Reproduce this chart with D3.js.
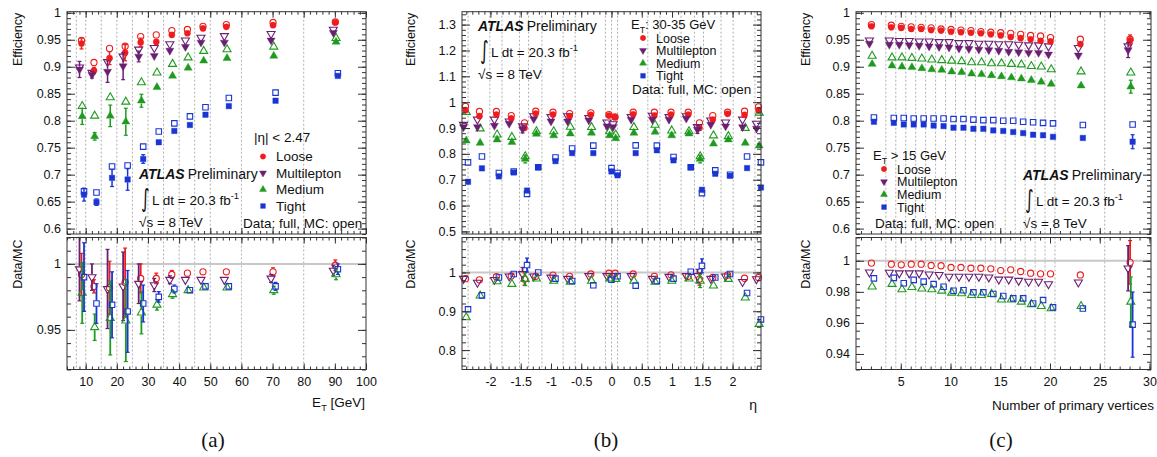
<!DOCTYPE html>
<html><head><meta charset="utf-8">
<script src="https://cdn.jsdelivr.net/npm/d3@7"></script>
<style>body{margin:0;background:#fff}svg text{font-family:"Liberation Sans",Arial,Helvetica,sans-serif;fill:#111}</style>
</head><body><svg id="c" width="1157" height="457"></svg>
<script>
// ---------------- shared ----------------
const seriesNames = ["Loose", "Multilepton", "Medium", "Tight"];
const seriesColors = ["#ee1c1c", "#6a1f72", "#1e9b1e", "#1a35d4"];
const seriesShapes = ["circle", "down", "up", "square"];

// ---------------- panel (a): efficiency vs ET ----------------
const aCenters = [8.5, 12.5, 17.5, 22.5, 27.5, 32.5, 37.5, 42.5, 47.5, 55, 70, 90];
const aEdges = [7, 10, 15, 20, 25, 30, 35, 40, 45, 50, 60, 80];
const aXTicks = [10, 20, 30, 40, 50, 60, 70, 80, 90, 100];
const aTopTicks = [0.6, 0.65, 0.7, 0.75, 0.8, 0.85, 0.9, 0.95, 1];
const aRatioTicks = [0.95, 1];

const aLooseData = [0.943, 0.893, 0.916, 0.926, 0.945, 0.946, 0.959, 0.962, 0.971, 0.974, 0.977, 0.982];
const aLooseMC   = [0.949, 0.908, 0.934, 0.938, 0.956, 0.959, 0.967, 0.969, 0.975, 0.978, 0.982, 0.983];
const aLooseErr  = [0.010, 0.006, 0.012, 0.015, 0.008, 0.003, 0.002, 0.002, 0.002, 0.002, 0.002, 0.002];
const aMultiData = [0.895, 0.885, 0.891, 0.901, 0.919, 0.920, 0.930, 0.937, 0.945, 0.945, 0.949, 0.963];
const aMultiMC   = [0.899, 0.889, 0.909, 0.919, 0.932, 0.935, 0.942, 0.949, 0.954, 0.957, 0.961, 0.969];
const aMultiErr  = [0.015, 0.006, 0.020, 0.025, 0.010, 0.004, 0.003, 0.002, 0.002, 0.002, 0.002, 0.003];
const aMediumData = [0.808, 0.771, 0.809, 0.798, 0.837, 0.862, 0.883, 0.898, 0.911, 0.916, 0.920, 0.946];
const aMediumMC   = [0.827, 0.809, 0.843, 0.835, 0.871, 0.889, 0.905, 0.917, 0.929, 0.932, 0.937, 0.953];
const aMediumErr  = [0.015, 0.007, 0.020, 0.025, 0.012, 0.004, 0.003, 0.002, 0.002, 0.002, 0.003, 0.003];
const aTightData = [0.663, 0.649, 0.694, 0.691, 0.729, 0.760, 0.781, 0.792, 0.811, 0.827, 0.837, 0.883];
const aTightMC   = [0.669, 0.667, 0.715, 0.717, 0.752, 0.780, 0.795, 0.808, 0.825, 0.842, 0.852, 0.888];
const aTightErr  = [0.012, 0.006, 0.016, 0.020, 0.008, 0.003, 0.002, 0.002, 0.002, 0.002, 0.002, 0.003];

const aLooseRatio = [0.992, 0.983, 0.982, 0.986, 0.989, 0.989, 0.992, 0.993, 0.994, 0.994, 0.994, 0.999];
const aLooseRatioErr = [0.016, 0.005, 0.020, 0.026, 0.011, 0.004, 0.003, 0.002, 0.002, 0.002, 0.003, 0.004];
const aMultiRatio = [0.996, 0.990, 0.981, 0.983, 0.985, 0.984, 0.988, 0.988, 0.988, 0.988, 0.989, 0.995];
const aMultiRatioErr = [0.024, 0.010, 0.030, 0.026, 0.015, 0.005, 0.003, 0.002, 0.002, 0.002, 0.003, 0.004];
const aMediumRatio = [0.978, 0.952, 0.959, 0.957, 0.963, 0.969, 0.977, 0.980, 0.982, 0.982, 0.980, 0.992];
const aMediumRatioErr = [0.023, 0.010, 0.028, 0.031, 0.016, 0.004, 0.003, 0.002, 0.002, 0.002, 0.003, 0.004];
const aTightRatio = [0.990, 0.970, 0.969, 0.964, 0.970, 0.975, 0.981, 0.980, 0.983, 0.983, 0.983, 0.996];
const aTightRatioErr = [0.026, 0.015, 0.025, 0.031, 0.014, 0.004, 0.003, 0.002, 0.002, 0.002, 0.003, 0.004];

// ---------------- panel (b): efficiency vs eta ----------------
const bCenters = [-2.42, -2.19, -1.91, -1.665, -1.445, -1.26, -0.975, -0.7, -0.35, -0.05, 0.05, 0.35, 0.7, 0.975, 1.26, 1.445, 1.665, 1.91, 2.19, 2.42];
const bEdges = [-2.37, -2.01, -1.81, -1.52, -1.37, -1.15, -0.8, -0.6, -0.1, 0, 0.1, 0.6, 0.8, 1.15, 1.37, 1.52, 1.81, 2.01, 2.37];
const bXTicks = [-2, -1.5, -1, -0.5, 0, 0.5, 1, 1.5, 2];
const bTopTicks = [0.5, 0.6, 0.7, 0.8, 0.9, 1, 1.1, 1.2, 1.3];
const bRatioTicks = [0.8, 0.9, 1];

const bLooseData = [0.969, 0.946, 0.952, 0.937, 0.900, 0.956, 0.952, 0.946, 0.951, 0.948, 0.942, 0.953, 0.948, 0.952, 0.952, 0.900, 0.933, 0.955, 0.951, 0.969];
const bLooseMC   = [0.984, 0.964, 0.964, 0.948, 0.920, 0.965, 0.961, 0.956, 0.959, 0.952, 0.943, 0.961, 0.961, 0.961, 0.961, 0.920, 0.948, 0.961, 0.965, 0.982];
const bLooseErr  = [0.004, 0.003, 0.003, 0.003, 0.008, 0.003, 0.002, 0.002, 0.002, 0.003, 0.003, 0.002, 0.002, 0.002, 0.003, 0.008, 0.003, 0.003, 0.003, 0.004];
const bMultiData = [0.904, 0.904, 0.909, 0.917, 0.896, 0.935, 0.926, 0.926, 0.930, 0.907, 0.904, 0.933, 0.933, 0.933, 0.937, 0.894, 0.913, 0.907, 0.904, 0.898];
const bMultiMC   = [0.913, 0.933, 0.933, 0.926, 0.907, 0.946, 0.943, 0.946, 0.939, 0.922, 0.915, 0.943, 0.948, 0.943, 0.946, 0.904, 0.930, 0.922, 0.933, 0.917];
const bMultiErr  = [0.005, 0.004, 0.004, 0.004, 0.015, 0.004, 0.003, 0.003, 0.003, 0.004, 0.004, 0.003, 0.003, 0.003, 0.004, 0.015, 0.004, 0.004, 0.004, 0.005];
const bMediumData = [0.851, 0.842, 0.855, 0.845, 0.780, 0.877, 0.871, 0.878, 0.881, 0.871, 0.860, 0.881, 0.885, 0.871, 0.878, 0.780, 0.839, 0.855, 0.842, 0.832];
const bMediumMC   = [0.961, 0.898, 0.874, 0.865, 0.790, 0.887, 0.887, 0.904, 0.903, 0.887, 0.874, 0.903, 0.912, 0.890, 0.887, 0.790, 0.871, 0.868, 0.900, 0.959];
const bMediumErr  = [0.005, 0.004, 0.004, 0.004, 0.015, 0.004, 0.003, 0.003, 0.003, 0.004, 0.004, 0.003, 0.003, 0.003, 0.004, 0.015, 0.004, 0.004, 0.004, 0.005];
const bTightData = [0.692, 0.744, 0.713, 0.728, 0.658, 0.748, 0.772, 0.803, 0.803, 0.732, 0.717, 0.803, 0.814, 0.775, 0.748, 0.661, 0.723, 0.715, 0.745, 0.670];
const bTightMC   = [0.767, 0.790, 0.726, 0.732, 0.645, 0.748, 0.786, 0.821, 0.832, 0.745, 0.726, 0.833, 0.832, 0.788, 0.748, 0.648, 0.736, 0.719, 0.790, 0.767];
const bTightErr  = [0.005, 0.004, 0.004, 0.004, 0.010, 0.004, 0.003, 0.003, 0.003, 0.004, 0.004, 0.003, 0.003, 0.003, 0.004, 0.010, 0.004, 0.004, 0.004, 0.005];

const bLooseRatio  = [0.984, 0.981, 0.989, 0.991, 0.983, 0.990, 0.993, 0.990, 0.996, 0.998, 0.998, 0.996, 0.990, 0.994, 0.990, 0.983, 0.987, 0.993, 0.985, 0.987];
const bMultiRatio  = [0.984, 0.974, 0.981, 0.990, 0.996, 0.990, 0.987, 0.984, 0.991, 0.991, 0.991, 0.991, 0.984, 0.989, 0.991, 0.991, 0.984, 0.990, 0.976, 0.983];
const bMediumRatio = [0.884, 0.940, 0.977, 0.970, 0.983, 0.984, 0.978, 0.976, 0.978, 0.984, 0.983, 0.978, 0.976, 0.978, 0.984, 0.978, 0.966, 0.983, 0.935, 0.867];
const bTightRatio  = [0.905, 0.941, 0.987, 0.996, 1.019, 1.000, 0.984, 0.978, 0.967, 0.981, 0.990, 0.966, 0.978, 0.984, 1.002, 1.017, 0.987, 0.996, 0.947, 0.879];
const bLooseRatioErr  = [0.004, 0.004, 0.004, 0.004, 0.016, 0.004, 0.003, 0.003, 0.003, 0.004, 0.004, 0.003, 0.003, 0.003, 0.004, 0.016, 0.004, 0.004, 0.004, 0.004];
const bMultiRatioErr  = [0.005, 0.005, 0.005, 0.005, 0.017, 0.005, 0.004, 0.004, 0.004, 0.005, 0.005, 0.004, 0.004, 0.004, 0.005, 0.017, 0.005, 0.005, 0.005, 0.005];
const bMediumRatioErr = [0.005, 0.005, 0.005, 0.005, 0.017, 0.005, 0.004, 0.004, 0.004, 0.005, 0.005, 0.004, 0.004, 0.004, 0.005, 0.017, 0.005, 0.005, 0.005, 0.005];
const bTightRatioErr  = [0.007, 0.005, 0.005, 0.005, 0.018, 0.005, 0.004, 0.004, 0.004, 0.005, 0.005, 0.004, 0.004, 0.004, 0.005, 0.018, 0.005, 0.005, 0.006, 0.007];

// ---------------- panel (c): efficiency vs number of primary vertices ----------------
const cCenters = [2, 4, 5, 6, 7, 8, 9, 10, 11, 12, 13, 14, 15, 16, 17, 18, 19, 20, 23, 28];
const cEdges = [3.5, 4.5, 5.5, 6.5, 7.5, 8.5, 9.5, 10.5, 11.5, 12.5, 13.5, 14.5, 15.5, 16.5, 17.5, 18.5, 19.5, 20.5, 25.5];
const cXTicks = [5, 10, 15, 20, 25, 30];
const cTopTicks = [0.6, 0.65, 0.7, 0.75, 0.8, 0.85, 0.9, 0.95, 1];
const cRatioTicks = [0.94, 0.96, 0.98, 1];

const cLooseData = [0.975, 0.973, 0.972, 0.970, 0.970, 0.968, 0.967, 0.965, 0.964, 0.963, 0.962, 0.960, 0.958, 0.955, 0.953, 0.951, 0.948, 0.947, 0.942, 0.949];
const cLooseMC   = [0.978, 0.977, 0.975, 0.974, 0.973, 0.972, 0.970, 0.969, 0.968, 0.967, 0.965, 0.964, 0.963, 0.962, 0.960, 0.958, 0.957, 0.954, 0.951, 0.951];
const cLooseErr  = [0.002, 0.001, 0.001, 0.001, 0.001, 0.001, 0.001, 0.001, 0.001, 0.001, 0.001, 0.001, 0.001, 0.001, 0.001, 0.001, 0.002, 0.002, 0.002, 0.010];
const cMultiData = [0.943, 0.941, 0.941, 0.940, 0.939, 0.938, 0.937, 0.936, 0.934, 0.933, 0.932, 0.931, 0.930, 0.928, 0.927, 0.926, 0.926, 0.923, 0.921, 0.931];
const cMultiMC   = [0.949, 0.949, 0.948, 0.948, 0.947, 0.947, 0.946, 0.946, 0.944, 0.944, 0.943, 0.943, 0.942, 0.942, 0.941, 0.940, 0.940, 0.938, 0.935, 0.938];
const cMultiErr  = [0.002, 0.001, 0.001, 0.001, 0.001, 0.001, 0.001, 0.001, 0.001, 0.001, 0.001, 0.001, 0.001, 0.001, 0.001, 0.001, 0.002, 0.002, 0.002, 0.014];
const cMediumData = [0.905, 0.902, 0.900, 0.899, 0.897, 0.895, 0.894, 0.891, 0.890, 0.887, 0.886, 0.884, 0.882, 0.880, 0.878, 0.875, 0.872, 0.868, 0.865, 0.863];
const cMediumMC   = [0.920, 0.917, 0.917, 0.916, 0.915, 0.913, 0.912, 0.911, 0.910, 0.908, 0.908, 0.906, 0.906, 0.905, 0.904, 0.901, 0.900, 0.895, 0.891, 0.889];
const cMediumErr  = [0.002, 0.001, 0.001, 0.001, 0.001, 0.001, 0.001, 0.001, 0.001, 0.001, 0.001, 0.001, 0.001, 0.001, 0.001, 0.001, 0.002, 0.002, 0.002, 0.012];
const cTightData = [0.798, 0.796, 0.793, 0.793, 0.793, 0.791, 0.790, 0.787, 0.787, 0.785, 0.785, 0.782, 0.781, 0.779, 0.777, 0.774, 0.773, 0.770, 0.768, 0.761];
const cTightMC   = [0.806, 0.805, 0.805, 0.804, 0.804, 0.804, 0.804, 0.803, 0.803, 0.802, 0.801, 0.801, 0.800, 0.800, 0.798, 0.797, 0.796, 0.795, 0.792, 0.793];
const cTightErr  = [0.002, 0.001, 0.001, 0.001, 0.001, 0.001, 0.001, 0.001, 0.001, 0.001, 0.001, 0.001, 0.001, 0.001, 0.001, 0.001, 0.002, 0.002, 0.002, 0.013];

const cLooseRatio  = [0.9985, 0.9978, 0.9974, 0.9978, 0.9978, 0.9970, 0.9968, 0.9957, 0.9957, 0.9952, 0.9952, 0.9948, 0.9937, 0.9942, 0.9931, 0.9920, 0.9916, 0.9916, 0.9909, 0.9990];
const cMultiRatio  = [0.9926, 0.9924, 0.9920, 0.9920, 0.9920, 0.9913, 0.9910, 0.9898, 0.9898, 0.9898, 0.9898, 0.9894, 0.9880, 0.9880, 0.9872, 0.9866, 0.9866, 0.9850, 0.9861, 0.9952];
const cMediumRatio = [0.9833, 0.9850, 0.9816, 0.9830, 0.9820, 0.9816, 0.9807, 0.9794, 0.9790, 0.9779, 0.9779, 0.9786, 0.9750, 0.9750, 0.9736, 0.9720, 0.9708, 0.9693, 0.9708, 0.9736];
const cTightRatio  = [0.9887, 0.9890, 0.9855, 0.9877, 0.9866, 0.9850, 0.9833, 0.9807, 0.9810, 0.9797, 0.9797, 0.9786, 0.9773, 0.9758, 0.9758, 0.9725, 0.9747, 0.9700, 0.9693, 0.9589];
const cLooseRatioErr  = [0.0009, 0.0008, 0.0007, 0.0007, 0.0007, 0.0007, 0.0007, 0.0007, 0.0007, 0.0007, 0.0007, 0.0007, 0.0008, 0.0008, 0.0009, 0.0010, 0.0011, 0.0012, 0.0012, 0.0140];
const cMultiRatioErr  = [0.0010, 0.0009, 0.0008, 0.0008, 0.0008, 0.0008, 0.0008, 0.0008, 0.0008, 0.0008, 0.0008, 0.0008, 0.0009, 0.0009, 0.0010, 0.0011, 0.0012, 0.0013, 0.0013, 0.0146];
const cMediumRatioErr = [0.0012, 0.0010, 0.0009, 0.0009, 0.0009, 0.0009, 0.0009, 0.0009, 0.0009, 0.0009, 0.0009, 0.0009, 0.0010, 0.0010, 0.0011, 0.0012, 0.0013, 0.0014, 0.0014, 0.0160];
const cTightRatioErr  = [0.0013, 0.0011, 0.0010, 0.0010, 0.0010, 0.0010, 0.0010, 0.0010, 0.0010, 0.0010, 0.0010, 0.0010, 0.0011, 0.0011, 0.0012, 0.0013, 0.0014, 0.0015, 0.0016, 0.0210];

// ---------------- drawing ----------------
const svg = d3.select("#c");
const TOP = [11.7, 234];     // top frame y range (px)
const RAT = [237.5, 369.5];  // ratio frame y range (px)
const SHIFT = [0.5, -1.5, 1.2, 3]; // small px offsets per series

function rng(a, b, step) {
  const n = Math.round((b - a) / step);
  return d3.range(n + 1).map(i => +(a + i * step).toFixed(5));
}
const fmtNum = v => String(+v.toFixed(3));

function symbolPath(shape, size) {
  const t = shape === "circle" ? d3.symbolCircle : shape === "square" ? d3.symbolSquare : d3.symbolTriangle;
  return d3.symbol().type(t).size(size)();
}
const symSize = { circle: 30, square: 30, up: 28, down: 28 };

function drawMarker(g, shape, cx, cy, color, filled, scale) {
  const s = (scale || 1) * symSize[shape];
  g.append("path")
    .attr("d", symbolPath(shape, s))
    .attr("transform", `translate(${cx},${cy})` + (shape === "down" ? " rotate(180)" : ""))
    .attr("fill", filled ? color : "none")
    .attr("stroke", color)
    .attr("stroke-width", filled ? 0.4 : 1.1);
}

function errBar(g, cx, cy, yLo, yHi, color, r, w) {
  const segs = [];
  if (yLo - cy > r) segs.push([cy + r, yLo]);
  if (cy - yHi > r) segs.push([yHi, cy - r]);
  segs.forEach(([a, b]) => g.append("line").attr("x1", cx).attr("x2", cx).attr("y1", a).attr("y2", b)
    .attr("stroke", color).attr("stroke-width", w));
  [yLo, yHi].forEach(y => {
    if (Math.abs(y - cy) > r) g.append("line").attr("x1", cx - 2).attr("x2", cx + 2).attr("y1", y).attr("y2", y)
      .attr("stroke", color).attr("stroke-width", 1.2);
  });
}

function frameAxes(g, x, y, yr, P, yTicks, yMinor, showXLabels) {
  const [t, b] = yr;
  const style = sel => {
    sel.select(".domain").remove();
    sel.attr("font-size", null).attr("font-family", null);
    sel.selectAll("line").attr("stroke", "#333");
    sel.selectAll("text").attr("font-size", 12.5).attr("fill", "#111");
  };
  g.append("g").attr("transform", `translate(${P.left},0)`)
    .call(d3.axisLeft(y).tickValues(yTicks).tickSize(-8).tickPadding(6).tickFormat(fmtNum)).call(style);
  g.append("g").attr("transform", `translate(${P.left},0)`)
    .call(d3.axisLeft(y).tickValues(yMinor).tickSize(-4).tickFormat("")).call(style);
  g.append("g").attr("transform", `translate(${P.right},0)`)
    .call(d3.axisRight(y).tickValues(yTicks).tickSize(-8).tickFormat("")).call(style);
  g.append("g").attr("transform", `translate(${P.right},0)`)
    .call(d3.axisRight(y).tickValues(yMinor).tickSize(-4).tickFormat("")).call(style);
  g.append("g").attr("transform", `translate(0,${b})`)
    .call(d3.axisBottom(x).tickValues(P.xTicks).tickSize(-6).tickPadding(8).tickFormat(showXLabels ? fmtNum : "")).call(style);
  g.append("g").attr("transform", `translate(0,${b})`)
    .call(d3.axisBottom(x).tickValues(P.xMinor).tickSize(-3).tickFormat("")).call(style);
  g.append("g").attr("transform", `translate(0,${t})`)
    .call(d3.axisTop(x).tickValues(P.xTicks).tickSize(-6).tickFormat("")).call(style);
  g.append("g").attr("transform", `translate(0,${t})`)
    .call(d3.axisTop(x).tickValues(P.xMinor).tickSize(-3).tickFormat("")).call(style);
  g.append("rect").attr("x", P.left).attr("y", t).attr("width", P.right - P.left).attr("height", b - t)
    .attr("fill", "none").attr("stroke", "#333").attr("stroke-width", 1);
}

function drawPanel(P) {
  const g = svg.append("g");
  const x = d3.scaleLinear().domain(P.xDomain).range([P.left, P.right]);
  const yT = d3.scaleLinear().domain(P.topDomain).range([TOP[1], TOP[0]]);
  const yR = d3.scaleLinear().domain(P.ratioDomain).range([RAT[1], RAT[0]]);

  [TOP, RAT].forEach(([a, b]) => {
    g.append("g").selectAll("line").data(P.edges).join("line")
      .attr("x1", d => x(d)).attr("x2", d => x(d)).attr("y1", a).attr("y2", b)
      .attr("stroke", "#b0b0b0").attr("stroke-width", 1).attr("stroke-dasharray", "2,2");
  });
  g.append("line").attr("x1", P.left).attr("x2", P.right).attr("y1", yR(1)).attr("y2", yR(1))
    .attr("stroke", "#c8c8c8").attr("stroke-width", 2);

  const gm = g.append("g");
  for (let s = 0; s < 4; s++) {
    P.centers.forEach((c, i) => {
      drawMarker(gm, seriesShapes[s], x(c) + SHIFT[s], yT(P.mc[s][i]), seriesColors[s], false);
    });
  }
  for (let s = 0; s < 4; s++) {
    P.centers.forEach((c, i) => {
      const cx = x(c) + SHIFT[s], cy = yT(P.data[s][i]);
      errBar(gm, cx, cy, yT(P.data[s][i] - P.err[s][i]), yT(P.data[s][i] + P.err[s][i]), seriesColors[s], 2.8, 1.5);
      drawMarker(gm, seriesShapes[s], cx, cy, seriesColors[s], true);
    });
  }
  const gr = g.append("g");
  for (let s = 0; s < 4; s++) {
    P.centers.forEach((c, i) => {
      const cx = x(c) + SHIFT[s], v = P.ratio[s][i], e = P.ratioErr[s][i];
      const cy = yR(v);
      errBar(gr, cx, cy, yR(v - e), yR(v + e), seriesColors[s], 3, 1.8);
      drawMarker(gr, seriesShapes[s], cx, cy, seriesColors[s], false);
    });
  }

  frameAxes(g, x, yT, TOP, P, P.topTicks, P.topMinor, false);
  frameAxes(g, x, yR, RAT, P, P.ratioTicks, P.ratioMinor, true);

  g.append("text").attr("transform", `translate(${P.yTitleX},${TOP[0] + 1}) rotate(-90)`)
    .attr("text-anchor", "end").attr("font-size", 12.5).text("Efficiency");
  g.append("text").attr("transform", `translate(${P.yTitleX},${RAT[0] + 2}) rotate(-90)`)
    .attr("text-anchor", "end").attr("font-size", 12.5).text("Data/MC");
  return g;
}

function atlasBlock(x0, y0) {
  const g = svg.append("g");
  const t = g.append("text").attr("x", x0).attr("y", y0).attr("font-size", 14);
  t.append("tspan").attr("font-weight", "bold").attr("font-style", "italic").text("ATLAS");
  t.append("tspan").attr("dx", 3).text("Preliminary");
  g.append("text").attr("transform", `translate(${x0 + 2},${y0 + 28}) scale(0.9,1.4)`)
    .attr("font-size", 18).style("font-family", "'DejaVu Sans'").text("∫");
  const l = g.append("text").attr("x", x0 + 13).attr("y", y0 + 26).attr("font-size", 13.5);
  l.append("tspan").text("L dt = 20.3 fb");
  l.append("tspan").attr("dy", -6).attr("font-size", 9.5).text("-1");
  g.append("text").attr("x", x0).attr("y", y0 + 48).attr("font-size", 13.5).text("√s = 8 TeV");
}

function legendBlock(x0, y0, dy, fs) {
  const g = svg.append("g");
  seriesNames.forEach((n, i) => {
    drawMarker(g, seriesShapes[i], x0, y0 + i * dy - 4.5, seriesColors[i], true, 0.75);
    g.append("text").attr("x", x0 + 13).attr("y", y0 + i * dy).attr("font-size", fs).text(n);
  });
}

function etText(x0, y0, rest, fs) {
  const t = svg.append("text").attr("x", x0).attr("y", y0).attr("font-size", fs);
  t.append("tspan").text("E");
  t.append("tspan").attr("dy", 3.5).attr("font-size", fs * 0.68).text("T");
  t.append("tspan").attr("dy", -3.5).text(rest);
  return t;
}

// ---- panel a ----
drawPanel({
  left: 67, right: 366, xDomain: [4, 100], topDomain: [0.59, 1.002], ratioDomain: [0.92, 1.02],
  centers: aCenters, edges: aEdges, xTicks: aXTicks, xMinor: rng(4, 100, 2),
  topTicks: aTopTicks, topMinor: rng(0.59, 1.0, 0.01), ratioTicks: aRatioTicks, ratioMinor: rng(0.92, 1.02, 0.01),
  data: [aLooseData, aMultiData, aMediumData, aTightData], mc: [aLooseMC, aMultiMC, aMediumMC, aTightMC],
  err: [aLooseErr, aMultiErr, aMediumErr, aTightErr],
  ratio: [aLooseRatio, aMultiRatio, aMediumRatio, aTightRatio],
  ratioErr: [aLooseRatioErr, aMultiRatioErr, aMediumRatioErr, aTightRatioErr], yTitleX: 22
});
svg.append("text").attr("x", 254).attr("y", 142).attr("font-size", 13.5).text("|η| < 2.47");
legendBlock(263, 161, 16.5, 13.5);
atlasBlock(139, 179);
svg.append("text").attr("x", 243).attr("y", 228).attr("font-size", 13.5).text("Data: full, MC: open");
{
  const t = etText(0, 407, " [GeV]", 13.5); t.attr("text-anchor", "end").attr("x", 365);
}

// ---- panel b ----
drawPanel({
  left: 462, right: 761, xDomain: [-2.47, 2.47], topDomain: [0.49, 1.35], ratioDomain: [0.75, 1.09],
  centers: bCenters, edges: bEdges, xTicks: bXTicks, xMinor: rng(-2.4, 2.4, 0.1),
  topTicks: bTopTicks, topMinor: rng(0.5, 1.34, 0.02), ratioTicks: bRatioTicks, ratioMinor: rng(0.76, 1.08, 0.02),
  data: [bLooseData, bMultiData, bMediumData, bTightData], mc: [bLooseMC, bMultiMC, bMediumMC, bTightMC],
  err: [bLooseErr, bMultiErr, bMediumErr, bTightErr],
  ratio: [bLooseRatio, bMultiRatio, bMediumRatio, bTightRatio],
  ratioErr: [bLooseRatioErr, bMultiRatioErr, bMediumRatioErr, bTightRatioErr], yTitleX: 415
});
atlasBlock(478, 31);
etText(631, 29, ": 30-35 GeV", 13);
legendBlock(643, 42.5, 12.6, 12.5);
svg.append("text").attr("x", 632).attr("y", 94).attr("font-size", 13.5).text("Data: full, MC: open");
svg.append("text").attr("x", 757).attr("y", 410).attr("font-size", 14).attr("text-anchor", "end").text("η");

// ---- panel c ----
drawPanel({
  left: 856, right: 1151, xDomain: [0.5, 30.15], topDomain: [0.59, 1.002], ratioDomain: [0.93, 1.015],
  centers: cCenters, edges: cEdges, xTicks: cXTicks, xMinor: rng(1, 30, 1),
  topTicks: cTopTicks, topMinor: rng(0.59, 1.0, 0.01), ratioTicks: cRatioTicks, ratioMinor: rng(0.93, 1.015, 0.005),
  data: [cLooseData, cMultiData, cMediumData, cTightData], mc: [cLooseMC, cMultiMC, cMediumMC, cTightMC],
  err: [cLooseErr, cMultiErr, cMediumErr, cTightErr],
  ratio: [cLooseRatio, cMultiRatio, cMediumRatio, cTightRatio],
  ratioErr: [cLooseRatioErr, cMultiRatioErr, cMediumRatioErr, cTightRatioErr], yTitleX: 810
});
etText(873, 160, " > 15 GeV", 13);
legendBlock(884, 173.5, 12.7, 12.5);
svg.append("text").attr("x", 875).attr("y", 228).attr("font-size", 13.5).text("Data: full, MC: open");
atlasBlock(1023, 180);
svg.append("text").attr("x", 1154).attr("y", 410).attr("font-size", 13.5).attr("text-anchor", "end").text("Number of primary vertices");

// captions
[["(a)", 213], ["(b)", 606], ["(c)", 1001]].forEach(([t, cx]) => {
  svg.append("text").attr("x", cx).attr("y", 447).attr("text-anchor", "middle").attr("font-size", 21)
    .style("font-family", "'Liberation Serif','DejaVu Serif',serif").text(t);
});
</script></body></html>
